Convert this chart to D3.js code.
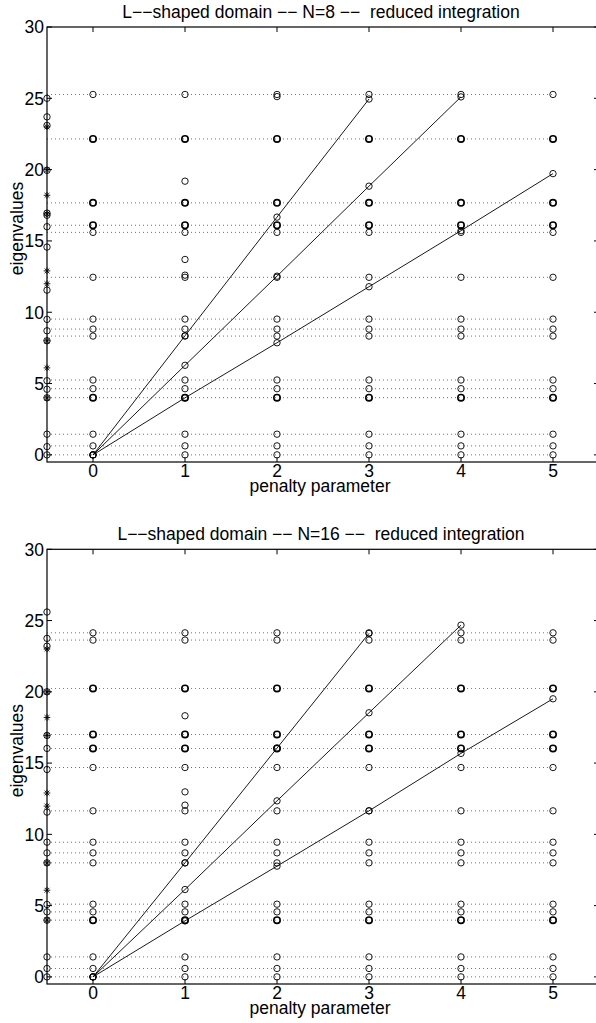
<!DOCTYPE html>
<html><head><meta charset="utf-8">
<script src="https://cdn.jsdelivr.net/npm/d3@7"></script>
<style>
html,body{margin:0;padding:0;background:#fff;}
svg{display:block;}
text{font-family:"Liberation Sans",Arial,Helvetica,sans-serif;fill:#000;white-space:pre;}
</style></head><body>
<svg id="chart" width="596" height="1023"></svg>
<script>
// ---------- shared ----------
const penalties = [0, 1, 2, 3, 4, 5];
const xTicks = [0, 1, 2, 3, 4, 5];
const yTicks = [0, 5, 10, 15, 20, 25, 30];
const xLabel = "penalty parameter";
const yLabel = "eigenvalues";

// ---------- N = 8 ----------
const n8Title = "L\u2212\u2212shaped domain \u2212\u2212 N=8 \u2212\u2212  reduced integration";
const n8Levels = [0, 0.63, 1.45, 4.01, 4.64, 5.25, 8.33, 8.82, 9.52, 12.45, 15.6, 16.1, 17.67, 22.15, 25.27];
const n8Mult   = [1, 1,    1,    2,    1,    1,    1,    1,    1,    1,     1,    2,    2,     2,     1];
const n8ExtraX = [1, 1, 1, 2];
const n8ExtraV = [19.19, 13.7, 12.6, 25.12];
const n8LineA = [0, 8.35, 16.67, 24.95];
const n8LineB = [0, 6.28, 12.53, 18.84, 25.1];
const n8LineC = [0, 4.0, 7.86, 11.79, 15.72, 19.72];
const n8RefCircles = [25.0, 23.7, 23.1, 19.95, 16.95, 16.8, 16.0, 14.57, 11.55, 9.5, 8.7, 8.0, 5.2, 4.6, 4.0, 1.45, 0.58, 0.0];
const n8RefStars = [23.0, 20.0, 18.2, 16.9, 12.9, 12.0, 8.0, 6.1, 4.0];

// ---------- N = 16 ----------
const n16Title = "L\u2212\u2212shaped domain \u2212\u2212 N=16 \u2212\u2212  reduced integration";
const n16Levels = [0, 0.59, 1.4, 3.98, 4.56, 5.1, 8.0, 8.7, 9.45, 11.65, 14.69, 16.03, 17.01, 20.24, 23.63, 24.14];
const n16Mult   = [1, 1,    1,   2,    1,    1,   1,   1,   1,    1,     1,     2,     2,     2,     1,     1];
const n16ExtraX = [1, 1, 1];
const n16ExtraV = [18.32, 12.98, 12.05];
const n16LineA = [0, 8.0, 16.05, 24.1];
const n16LineB = [0, 6.13, 12.35, 18.53, 24.68];
const n16LineC = [0, 3.93, 7.77, 11.65, 15.68, 19.51];
const n16RefCircles = [25.6, 23.75, 23.2, 20.0, 16.94, 16.03, 14.55, 11.56, 9.45, 8.7, 8.0, 5.08, 4.56, 3.98, 1.4, 0.59, 0.0];
const n16RefStars = [23.0, 20.0, 18.2, 16.94, 12.9, 11.98, 8.0, 6.08, 3.98];

const refX = -0.5;

const panels = [
  {title: n8Title, levels: n8Levels, mult: n8Mult, extraX: n8ExtraX, extraV: n8ExtraV,
   lines: [n8LineA, n8LineB, n8LineC], refC: n8RefCircles, refS: n8RefStars, top: 27, bottom: 462},
  {title: n16Title, levels: n16Levels, mult: n16Mult, extraX: n16ExtraX, extraV: n16ExtraV,
   lines: [n16LineA, n16LineB, n16LineC], refC: n16RefCircles, refS: n16RefStars, top: 549.3, bottom: 984}
];

const svg = d3.select("#chart");
const left = 47, right = 599;
const FS = 17.5;
const R = 3.2;

function star(s) {
  const d = s * 0.72;
  return `M${-s},0H${s}M0,${-s}V${s}M${-d},${-d}L${d},${d}M${-d},${d}L${d},${-d}`;
}

panels.forEach(p => {
  const x = d3.scaleLinear().domain([-0.5, 5.5]).range([left, right]);
  const y = d3.scaleLinear().domain([-0.5, 30]).range([p.bottom, p.top]);
  const g = svg.append("g");

  // dotted level lines
  g.selectAll("line.lvl").data(p.levels).enter().append("line")
    .attr("x1", x(refX)).attr("x2", x(5))
    .attr("y1", d => y(d)).attr("y2", d => y(d))
    .attr("stroke", "#000").attr("stroke-width", 0.8)
    .attr("stroke-dasharray", "1 3").attr("opacity", 0.7);

  // penalty lines
  const lineGen = d3.line().x((d, i) => x(penalties[i])).y(d => y(d));
  p.lines.forEach(L => {
    g.append("path").attr("d", lineGen(L)).attr("fill", "none")
      .attr("stroke", "#000").attr("stroke-width", 0.9);
  });

  // circles
  const pts = [];
  penalties.forEach(px => p.levels.forEach((v, i) => pts.push({x: px, v, m: p.mult[i]})));
  p.extraX.forEach((px, i) => pts.push({x: px, v: p.extraV[i], m: 1}));
  p.lines.forEach(L => L.forEach((v, i) => pts.push({x: penalties[i], v, m: 1})));
  p.refC.forEach(v => pts.push({x: refX, v, m: 1}));

  g.selectAll("circle.pt").data(pts).enter().append("circle")
    .attr("cx", d => x(d.x)).attr("cy", d => y(d.v)).attr("r", R)
    .attr("fill", "none").attr("stroke", "#000")
    .attr("stroke-width", d => d.m > 1 ? 1.6 : 0.9);

  g.selectAll("path.st").data(p.refS).enter().append("path")
    .attr("d", star(3.3))
    .attr("transform", d => `translate(${x(refX)},${y(d)})`)
    .attr("fill", "none").attr("stroke", "#000").attr("stroke-width", 0.9);

  // box
  g.append("rect").attr("x", left).attr("y", p.top)
    .attr("width", right - left).attr("height", p.bottom - p.top)
    .attr("fill", "none").attr("stroke", "#000").attr("stroke-width", 1.2);

  // ticks
  const tl = 5;
  xTicks.forEach(t => {
    g.append("line").attr("x1", x(t)).attr("x2", x(t)).attr("y1", p.bottom).attr("y2", p.bottom - tl).attr("stroke", "#000");
    g.append("line").attr("x1", x(t)).attr("x2", x(t)).attr("y1", p.top).attr("y2", p.top + tl).attr("stroke", "#000");
  });
  yTicks.forEach(t => {
    g.append("line").attr("x1", left).attr("x2", left + tl).attr("y1", y(t)).attr("y2", y(t)).attr("stroke", "#000");
    g.append("line").attr("x1", right).attr("x2", right - tl).attr("y1", y(t)).attr("y2", y(t)).attr("stroke", "#000");
  });

  g.selectAll("text.xt").data(xTicks).enter().append("text")
    .attr("x", d => x(d)).attr("y", p.bottom + 14.5).attr("text-anchor", "middle")
    .attr("font-size", FS).text(d => d);
  g.selectAll("text.yt").data(yTicks).enter().append("text")
    .attr("x", left - 3).attr("y", d => y(d) + 6.3).attr("text-anchor", "end")
    .attr("font-size", FS).text(d => d);

  g.append("text").attr("x", (left + right) / 2 - 3).attr("y", p.bottom + 30)
    .attr("text-anchor", "middle").attr("font-size", FS).text(xLabel);
  g.append("text").attr("transform", `translate(23,${(p.top + p.bottom) / 2 - 16}) rotate(-90)`)
    .attr("text-anchor", "middle").attr("font-size", FS).text(yLabel);
  g.append("text").attr("x", (left + right) / 2 - 2).attr("y", p.top - 9.5)
    .attr("text-anchor", "middle").attr("font-size", FS).text(p.title);
});
</script>
</body></html>
